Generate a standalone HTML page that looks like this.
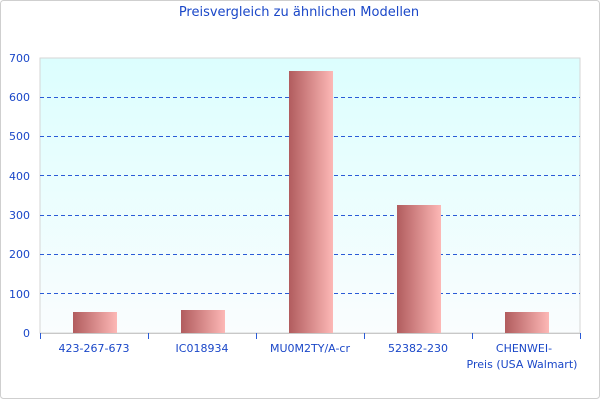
<!DOCTYPE html>
<html><head><style>
body{margin:0;background:#fff}
svg{display:block;font-family:"DejaVu Sans","Liberation Sans",sans-serif}
</style></head><body>
<svg width="600" height="400" viewBox="0 0 600 400">
<defs>
<linearGradient id="bg" x1="0" y1="0" x2="0" y2="1"><stop offset="0" stop-color="#dcfefe"/><stop offset="1" stop-color="#fafdfe"/></linearGradient>
<linearGradient id="bar" x1="0" y1="0" x2="1" y2="0"><stop offset="0" stop-color="#b15c5e"/><stop offset="1" stop-color="#fdb8b6"/></linearGradient>
</defs>
<rect x="0.5" y="0.5" width="599" height="398" rx="3" fill="#fff" stroke="#cfcfcf"/>
<text x="299" y="16" text-anchor="middle" font-size="13" fill="#1a47c8">Preisvergleich zu ähnlichen Modellen</text>
<rect x="40" y="58" width="540" height="275" fill="url(#bg)" stroke="#d6d6d6"/>
<g stroke="#2a5bd7" stroke-dasharray="4,3" stroke-width="1">
<line x1="40" x2="580" y1="97.5" y2="97.5"/><line x1="40" x2="580" y1="136.5" y2="136.5"/>
<line x1="40" x2="580" y1="175.5" y2="175.5"/><line x1="40" x2="580" y1="215.5" y2="215.5"/>
<line x1="40" x2="580" y1="254.5" y2="254.5"/><line x1="40" x2="580" y1="293.5" y2="293.5"/>
</g>
<g fill="url(#bar)">
<rect x="73" y="312" width="44" height="21"/>
<rect x="181" y="310" width="44" height="23"/>
<rect x="289" y="71" width="44" height="262"/>
<rect x="397" y="205" width="44" height="128"/>
<rect x="505" y="312" width="44" height="21"/>
</g>
<line x1="40" x2="580" y1="333.5" y2="333.5" stroke="#c8c8c8"/>
<g stroke="#2a5bd7"><line x1="40.5" x2="40.5" y1="333" y2="339"/><line x1="148.5" x2="148.5" y1="333" y2="339"/><line x1="256.5" x2="256.5" y1="333" y2="339"/><line x1="364.5" x2="364.5" y1="333" y2="339"/><line x1="472.5" x2="472.5" y1="333" y2="339"/><line x1="580.5" x2="580.5" y1="333" y2="339"/></g>
<g font-size="11" fill="#1a47c8" text-anchor="end">
<text x="30" y="62">700</text><text x="30" y="101">600</text><text x="30" y="140">500</text><text x="30" y="180">400</text><text x="30" y="219">300</text><text x="30" y="258">200</text><text x="30" y="298">100</text><text x="30" y="337">0</text>
</g>
<g font-size="11" fill="#1a47c8" text-anchor="middle">
<text x="94" y="352">423-267-673</text><text x="202" y="352">IC018934</text><text x="310" y="352">MU0M2TY/A-cr</text><text x="418" y="352">52382-230</text><text x="524" y="352">CHENWEI-</text><text x="522" y="368">Preis (USA Walmart)</text>
</g>
</svg>
</body></html>
